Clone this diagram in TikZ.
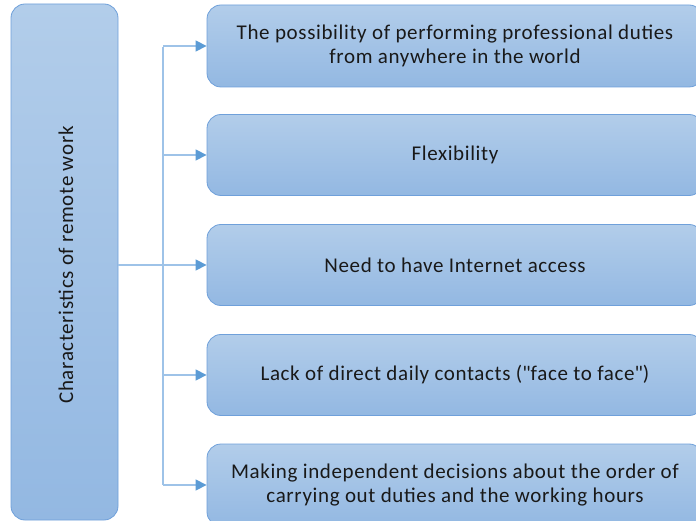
\documentclass[tikz,border=0pt]{standalone}
\usepackage{fontspec}
\setmainfont{Carlito}[LetterSpace=3]
\usetikzlibrary{arrows.meta}
\newcommand\straightdq{\XeTeXglyph\XeTeXcharglyph"22\relax}
\definecolor{boxtop}{HTML}{B2CDEA}
\definecolor{boxbot}{HTML}{93B8E2}
\definecolor{boxline}{HTML}{6FA0DA}
\definecolor{conn}{HTML}{9EC3E8}
\definecolor{tip}{HTML}{5B9BD5}
\tikzset{
  txt/.style={font=\fontsize{21}{24}\selectfont, text=black!90},
  card/.style={draw=boxline, line width=0.8pt, rounded corners=14pt, top color=boxtop, bottom color=boxbot, inner sep=0pt, align=center, txt},
  conline/.style={draw=conn, line width=1.3pt},
  conarrow/.style={conline, -{Triangle[length=11pt, width=11pt, fill=tip, color=tip]}}
}
\begin{document}
\begin{tikzpicture}[x=1pt, y=-1pt]
\useasboundingbox (0,0) rectangle (696,521);
\clip (0,0) rectangle (696,521);
\node[card, minimum width=107pt, minimum height=516pt] (L) at (64.5,262) {};
\node[rotate=90, txt] (Lt) at (66,265) {Characteristics of remote work};
\node[card, minimum width=496pt, minimum height=82pt] (b1) at (455,46) {The possibility of performing professional duties\\from anywhere in the world};
\node[card, minimum width=496pt, minimum height=81pt] (b2) at (455,155) {Flexibility};
\node[card, minimum width=496pt, minimum height=81pt] (b3) at (455,265) {Need to have Internet access};
\node[card, minimum width=496pt, minimum height=81pt] (b4) at (455,375) {Lack of direct daily contacts (\straightdq face to face\straightdq)};
\node[card, minimum width=496pt, minimum height=82pt] (b5) at (455,485) {Making independent decisions about the order of\\carrying out duties and the working hours};
\coordinate (bus) at (163,265);
\draw[conline] (L.east |- bus) -- (bus);
\draw[conline] (163,47) -- (163,485);
\foreach \b in {b1,b2,b3,b4,b5}{
  \draw[conarrow] (bus |- \b.west) -- (\b.west);
}
\end{tikzpicture}
\end{document}
